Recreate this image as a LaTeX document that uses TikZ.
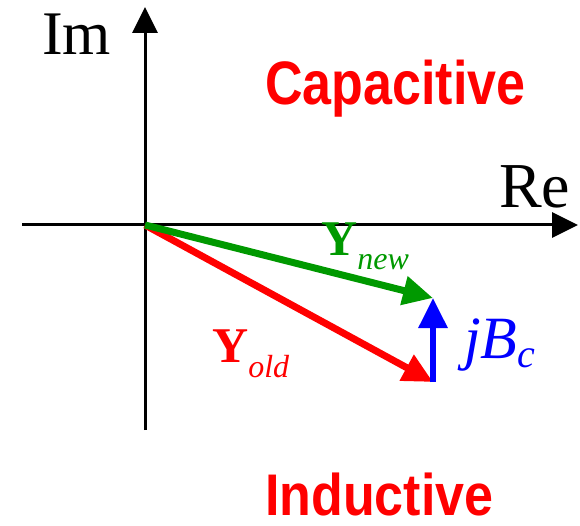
\documentclass[tikz,border=0pt]{standalone}
\usepackage{fontspec}
\setmainfont{Liberation Serif}
\setsansfont{Liberation Sans}
\usepackage{graphicx}
\usetikzlibrary{arrows.meta}
\definecolor{Red}{HTML}{FF0000}
\definecolor{Green}{HTML}{009900}
\definecolor{Blue}{HTML}{0000FF}

\begin{document}
\begin{tikzpicture}[x=1pt,y=-1pt]
        \useasboundingbox (0,0) rectangle (580,526);
        \tikzset{
          axis/.style={draw=black,line width=3pt,-{Triangle[width=25pt,length=26pt]}},
          phasor/.style={line width=7pt,-{Triangle[width=28pt,length=30pt]}},
          region/.style={anchor=base west,inner sep=0pt,text=Red,font=\fontsize{52}{60}\selectfont\sffamily\bfseries},
          axlabel/.style={anchor=base west,inner sep=0pt,font=\fontsize{62}{70}\selectfont}
        }
        \coordinate (O) at (145,225);
        \coordinate (imbot) at (145,430);
        \coordinate (imtop) at (145,7);
        \coordinate (releft) at (22,225);
        \coordinate (reright) at (578,225);
        \coordinate (N) at (433,298);
        \coordinate (B) at (433,382);

        \draw[axis] (imbot) -- (imtop);
        \draw[axis] (releft) -- (reright);
        \node[axlabel] (im) at (42,55) {Im};
        \node[axlabel,font=\fontsize{64}{70}\selectfont] (re) at (499,208) {Re};

        \draw[phasor,Red] (O) -- (B);
        \draw[phasor,Green] (O) -- (N);
        \draw[phasor,Blue,line width=6pt] (B) -- (N);

        \node[anchor=base west,inner sep=0pt,text=Green,font=\fontsize{50}{56}\selectfont] (ynew) at (321,255)
          {\textbf{Y}\raisebox{-14pt}{\fontsize{32}{36}\selectfont\itshape new}};
        \node[anchor=base west,inner sep=0pt,text=Red,font=\fontsize{50}{56}\selectfont] (yold) at (212,362)
          {\textbf{Y}\raisebox{-15pt}{\fontsize{32}{36}\selectfont\itshape old}};
        \node[anchor=base west,inner sep=0pt,text=Blue,font=\fontsize{60}{66}\selectfont\itshape] (jbc) at (464,358)
          {jB\raisebox{-9pt}{\fontsize{40}{44}\selectfont c}};

        \node[region] (cap) at (265,105) {\scalebox{1}[1.18]{Capacitive}};
        \node[region] (ind) at (265,515) {\scalebox{1}[1.13]{Inductive}};
      \end{tikzpicture}
\end{document}
